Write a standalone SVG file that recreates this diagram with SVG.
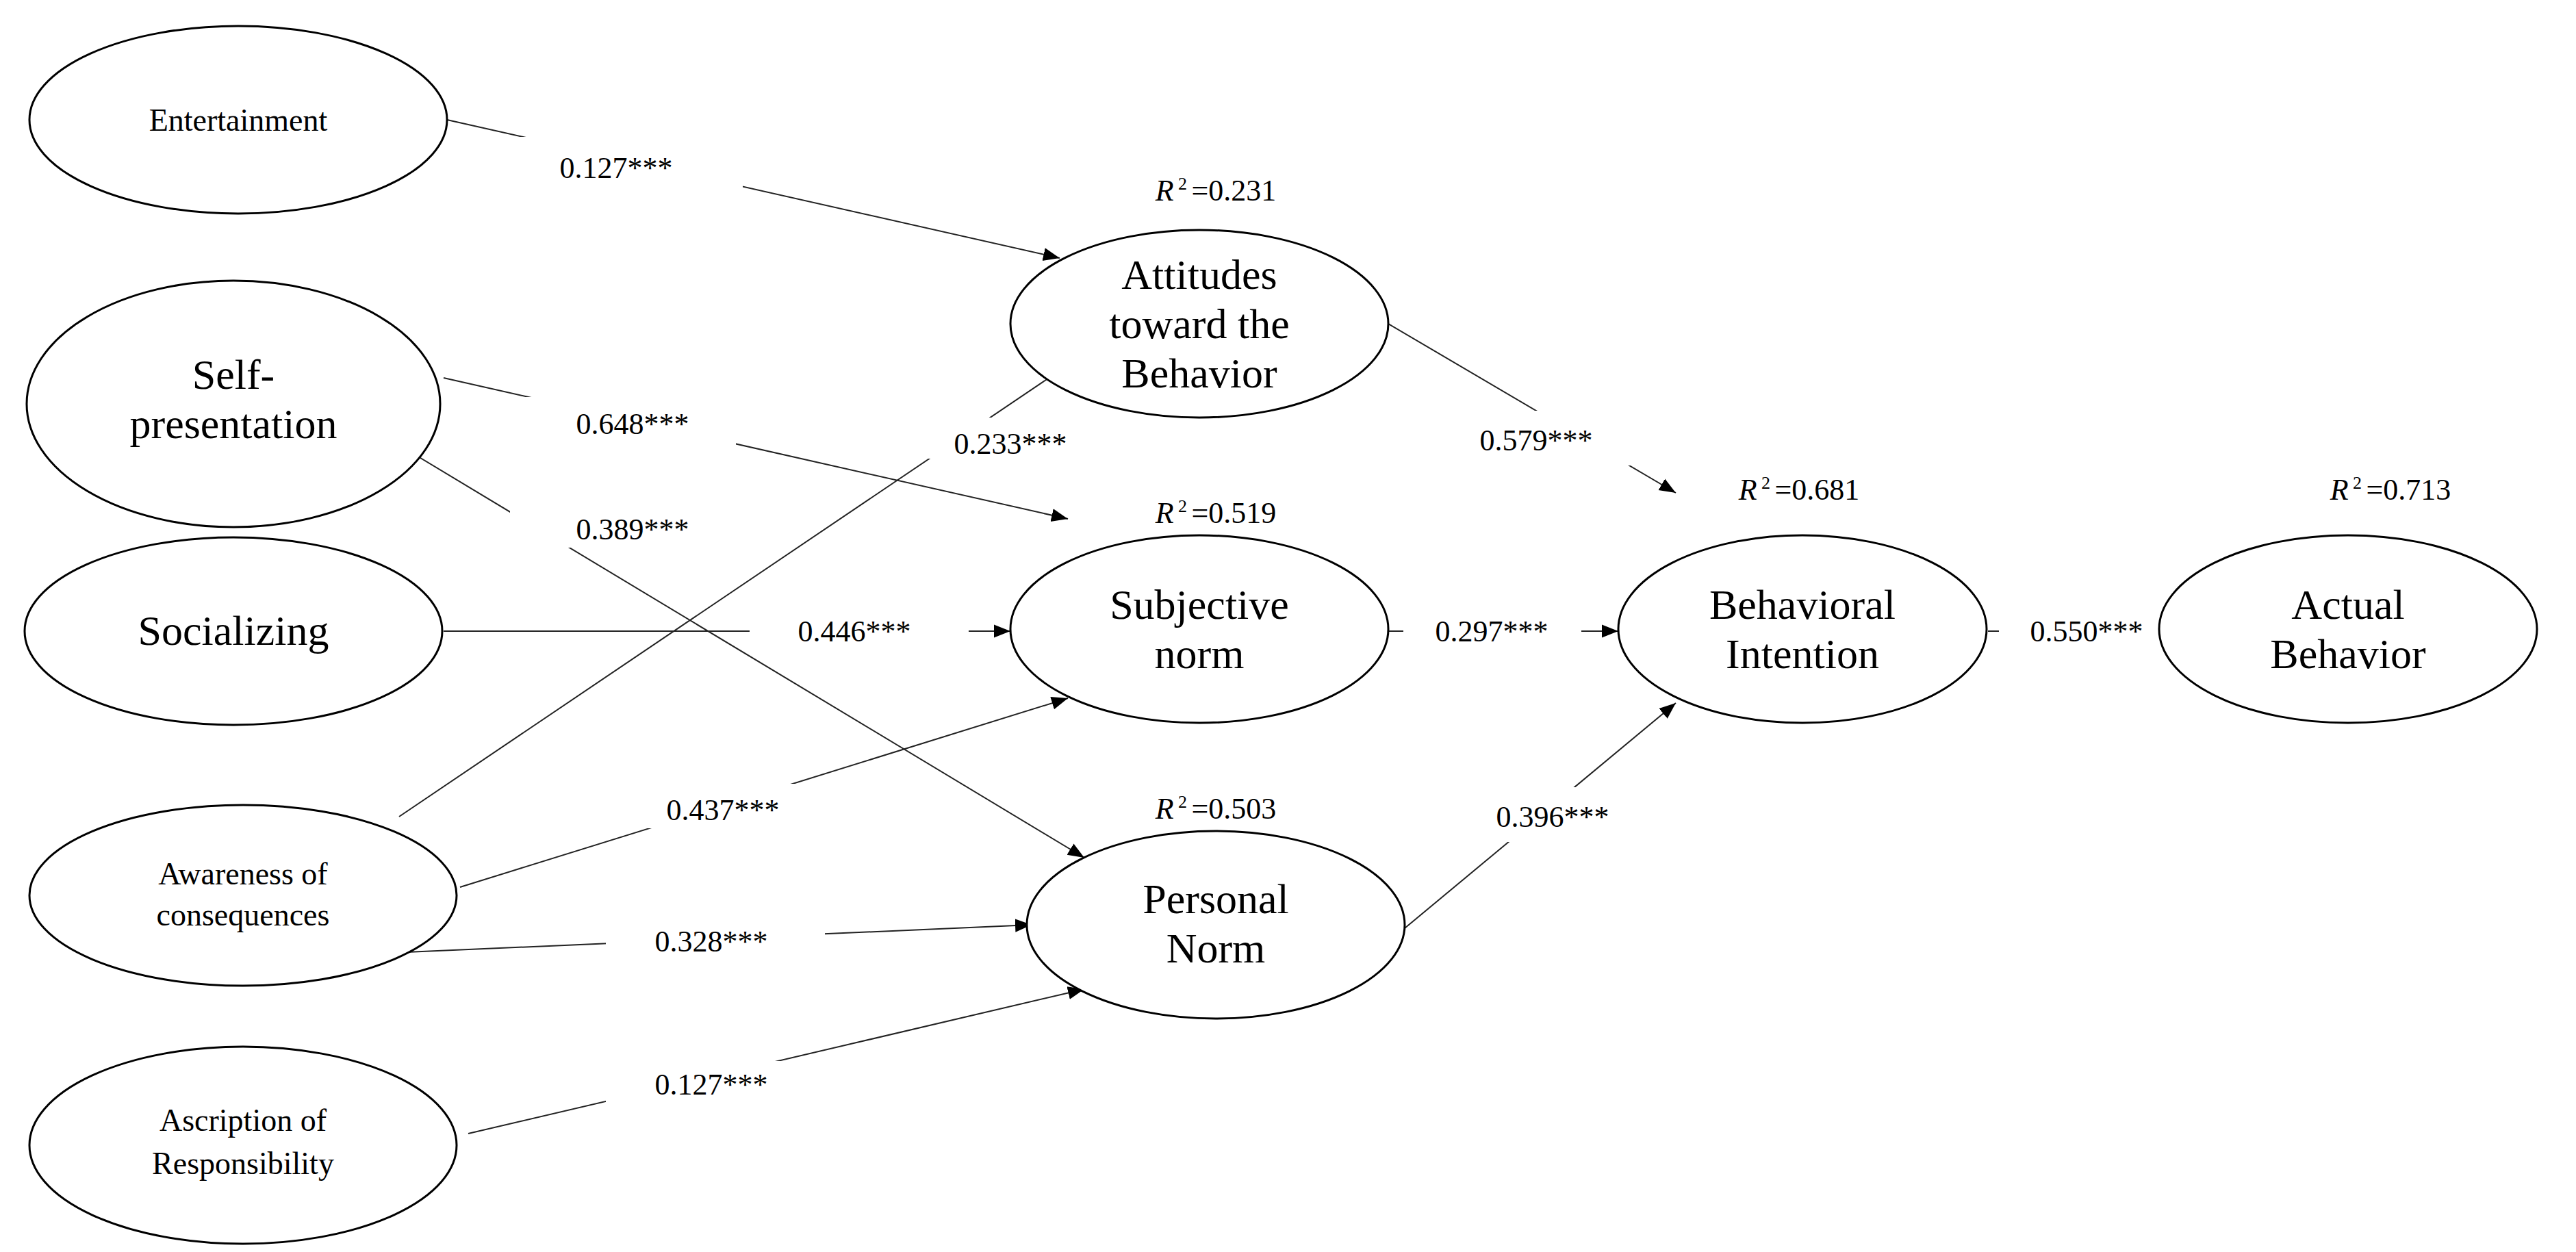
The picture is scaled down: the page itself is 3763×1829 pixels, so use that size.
<svg xmlns="http://www.w3.org/2000/svg" width="3763" height="1829" viewBox="0 0 3763 1829">
<style>
.n{fill:#fff;stroke:#000;stroke-width:3}
.t{font-family:"Liberation Serif",serif;text-anchor:middle;fill:#000}
.s{font-size:46px}.b{font-size:62px}
.c{stroke:#222;stroke-width:2;fill:none;marker-end:url(#a)}
.c0{stroke:#222;stroke-width:2;fill:none}
.lb{fill:#fff}
.l{font-family:"Liberation Serif",serif;font-size:44px;text-anchor:middle;fill:#000}
</style>
<defs><marker id="a" viewBox="0 0 10 10" refX="10" refY="5" markerWidth="9" markerHeight="9" markerUnits="userSpaceOnUse" orient="auto"><path d="M0,0L10,5L0,10z" fill="#000"/></marker>
<marker id="a2" viewBox="0 0 10 10" refX="10" refY="5" markerWidth="24" markerHeight="24" markerUnits="userSpaceOnUse" orient="auto"><path d="M0,1L10,5L0,9z" fill="#000"/></marker></defs>
<g id="connectors">
<line class="c0" x1="653" y1="175" x2="1548" y2="377" marker-end="url(#a2)"/>
<line class="c0" x1="648" y1="552" x2="1560" y2="758" marker-end="url(#a2)"/>
<line class="c0" x1="571" y1="643" x2="1584" y2="1253" marker-end="url(#a2)"/>
<line class="c0" x1="648" y1="922" x2="1476" y2="922" marker-end="url(#a2)"/>
<line class="c0" x1="583" y1="1193" x2="1596" y2="509" marker-end="url(#a2)"/>
<line class="c0" x1="672" y1="1296" x2="1560" y2="1020" marker-end="url(#a2)"/>
<line class="c0" x1="571" y1="1392" x2="1507" y2="1351" marker-end="url(#a2)"/>
<line class="c0" x1="684" y1="1656" x2="1584" y2="1445" marker-end="url(#a2)"/>
<line class="c0" x1="2028" y1="473" x2="2448" y2="720" marker-end="url(#a2)"/>
<line class="c0" x1="2028" y1="922" x2="2364" y2="922" marker-end="url(#a2)"/>
<line class="c0" x1="2052" y1="1356" x2="2448" y2="1027" marker-end="url(#a2)"/>
<line class="c0" x1="2904" y1="922" x2="3245" y2="922" marker-end="url(#a2)"/>
</g>
<g id="labels">
<rect class="lb" x="725" y="200" width="360" height="75"/><text class="l" x="900" y="260">0.127***</text>
<rect class="lb" x="745" y="580" width="330" height="70"/><text class="l" x="924" y="634">0.648***</text>
<rect class="lb" x="1330" y="610" width="290" height="60"/><text class="l" x="1476" y="663">0.233***</text>
<rect class="lb" x="745" y="740" width="330" height="60"/><text class="l" x="924" y="788">0.389***</text>
<rect class="lb" x="1095" y="890" width="320" height="65"/><text class="l" x="1248" y="937">0.446***</text>
<rect class="lb" x="925" y="1145" width="280" height="65"/><text class="l" x="1056" y="1198">0.437***</text>
<rect class="lb" x="885" y="1340" width="320" height="70"/><text class="l" x="1039" y="1390">0.328***</text>
<rect class="lb" x="885" y="1550" width="320" height="70"/><text class="l" x="1039" y="1599">0.127***</text>
<rect class="lb" x="2100" y="600" width="290" height="80"/><text class="l" x="2244" y="658">0.579***</text>
<rect class="lb" x="2050" y="890" width="260" height="65"/><text class="l" x="2179" y="937">0.297***</text>
<rect class="lb" x="2120" y="1150" width="290" height="80"/><text class="l" x="2268" y="1208">0.396***</text>
<rect class="lb" x="2920" y="890" width="270" height="65"/><text class="l" x="3048" y="937">0.550***</text>
<text class="l" x="1776" y="293"><tspan font-style="italic">R</tspan><tspan font-size="26" dy="-16"> 2 </tspan><tspan dy="16">=0.231</tspan></text>
<text class="l" x="1776" y="764"><tspan font-style="italic">R</tspan><tspan font-size="26" dy="-16"> 2 </tspan><tspan dy="16">=0.519</tspan></text>
<text class="l" x="1776" y="1196"><tspan font-style="italic">R</tspan><tspan font-size="26" dy="-16"> 2 </tspan><tspan dy="16">=0.503</tspan></text>
<text class="l" x="2628" y="730"><tspan font-style="italic">R</tspan><tspan font-size="26" dy="-16"> 2 </tspan><tspan dy="16">=0.681</tspan></text>
<text class="l" x="3492" y="730"><tspan font-style="italic">R</tspan><tspan font-size="26" dy="-16"> 2 </tspan><tspan dy="16">=0.713</tspan></text>
</g>
<g id="ent"><ellipse class="n" cx="348" cy="175" rx="305" ry="137"/><text class="t s" x="348" y="191">Entertainment</text></g>
<g id="self"><ellipse class="n" cx="341" cy="590" rx="302" ry="180"/><text class="t b" x="341" y="568">Self-</text><text class="t b" x="341" y="640">presentation</text></g>
<g id="soc"><ellipse class="n" cx="341" cy="922" rx="305" ry="137"/><text class="t b" x="341" y="942">Socializing</text></g>
<g id="aware"><ellipse class="n" cx="355" cy="1308" rx="312" ry="132"/><text class="t s" x="355" y="1292">Awareness of</text><text class="t s" x="355" y="1352">consequences</text></g>
<g id="ascr"><ellipse class="n" cx="355" cy="1673" rx="312" ry="144"/><text class="t s" x="355" y="1652">Ascription of</text><text class="t s" x="355" y="1715">Responsibility</text></g>
<g id="att"><ellipse class="n" cx="1752" cy="473" rx="276" ry="137"/><text class="t b" x="1752" y="422">Attitudes</text><text class="t b" x="1752" y="494">toward the</text><text class="t b" x="1752" y="566">Behavior</text></g>
<g id="subj"><ellipse class="n" cx="1752" cy="919" rx="276" ry="137"/><text class="t b" x="1752" y="904">Subjective</text><text class="t b" x="1752" y="976">norm</text></g>
<g id="pers"><ellipse class="n" cx="1776" cy="1351" rx="276" ry="137"/><text class="t b" x="1776" y="1334">Personal</text><text class="t b" x="1776" y="1406">Norm</text></g>
<g id="bi"><ellipse class="n" cx="2633" cy="919" rx="269" ry="137"/><text class="t b" x="2633" y="904">Behavioral</text><text class="t b" x="2633" y="976">Intention</text></g>
<g id="act"><ellipse class="n" cx="3430" cy="919" rx="276" ry="137"/><text class="t b" x="3430" y="904">Actual</text><text class="t b" x="3430" y="976">Behavior</text></g>
</svg>
